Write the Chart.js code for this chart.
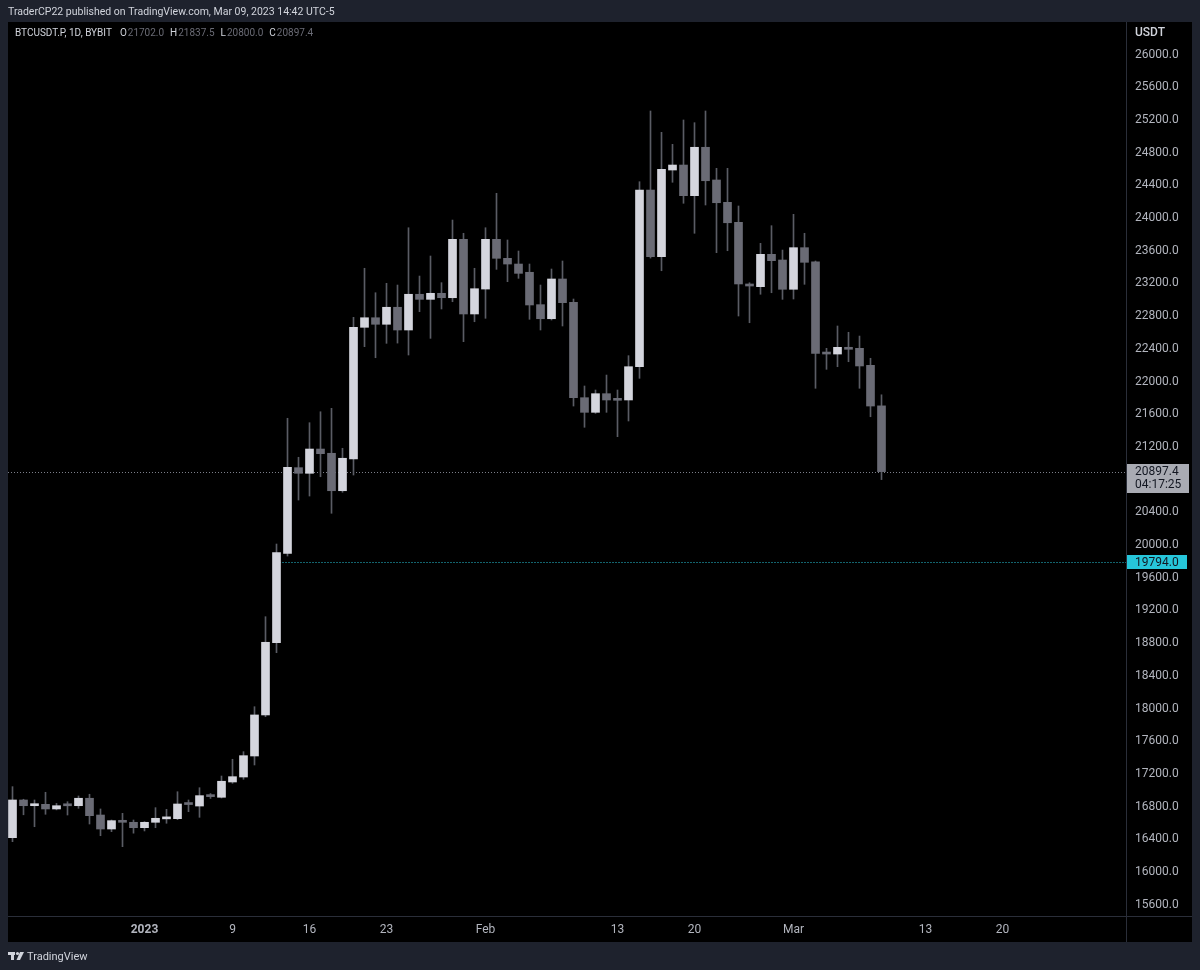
<!DOCTYPE html>
<html>
<head>
<meta charset="utf-8">
<title>BTCUSDT.P 1D BYBIT</title>
<script src="https://cdn.jsdelivr.net/npm/chart.js@4.4.0/dist/chart.umd.min.js"></script>
<style>
  html, body { margin: 0; padding: 0; background: #1e222d; }
  #wrap { width: 1200px; height: 970px; }
</style>
</head>
<body>
<div id="wrap"><canvas id="btc-chart" width="1200" height="970"></canvas></div>
<script>
// day offset from 1 Jan 2023 (negative = December 2022)
const days = [-12, -11, -10, -9, -8, -7, -6, -5, -4, -3, -2, -1,
  0, 1, 2, 3, 4, 5, 6, 7, 8, 9, 10, 11, 12, 13, 14, 15, 16, 17, 18, 19, 20, 21, 22, 23, 24, 25, 26, 27, 28, 29, 30,
  31, 32, 33, 34, 35, 36, 37, 38, 39, 40, 41, 42, 43, 44, 45, 46, 47, 48, 49, 50, 51, 52, 53, 54, 55, 56, 57, 58,
  59, 60, 61, 62, 63, 64, 65, 66, 67];

const opens = [16420, 16881, 16811, 16828, 16771, 16818, 16811, 16902, 16697, 16526, 16628, 16608,
  16542, 16608, 16650, 16652, 16832, 16807, 16930, 16914, 17101, 17162, 17419, 17921, 18805, 19898, 20946, 20877,
  21174, 21122, 20664, 21052, 22663, 22780, 22700, 22908, 22630, 23067, 23005, 23079, 23025, 23739, 22826,
  23131, 23739, 23507, 23437, 23336, 22940, 22768, 23254, 22969, 21802, 21623, 21851, 21780, 21774, 22181, 24342,
  23527, 24587, 24648, 24273, 24865, 24465, 24192, 23947, 23193, 23160, 23556, 23486,
  23128, 23637, 23465, 22352, 22336, 22418, 22406, 22198, 21702.0];
const highs = [17044, 16890, 16881, 16975, 16839, 16860, 16930, 16951, 16771, 16636, 16718, 16636,
  16616, 16787, 16767, 16982, 16881, 17031, 16960, 17174, 17379, 17472, 18022, 19123, 20012, 21550, 21073, 21496,
  21630, 21672, 21183, 22785, 23385, 23086, 23201, 23180, 23881, 23290, 23535, 23209, 23975, 23813, 23385,
  23881, 24302, 23731, 23596, 23437, 23180, 23376, 23474, 23009, 21945, 21896, 22079, 21896, 22316, 24444, 25309,
  25048, 24901, 25199, 25166, 25309, 24608, 24608, 24147, 23208, 23690, 23906, 23608,
  24045, 23813, 23474, 22406, 22679, 22602, 22556, 22284, 21837.5];
const lows = [16371, 16700, 16554, 16706, 16760, 16697, 16779, 16587, 16444, 16493, 16310, 16475,
  16502, 16542, 16596, 16640, 16738, 16669, 16900, 16905, 17085, 17134, 17309, 17900, 18683, 19865, 20550, 20599,
  20835, 20388, 20645, 20856, 22426, 22291, 22467, 22470, 22324, 22854, 22528, 22887, 22976, 22487, 22731,
  22773, 23372, 23221, 23262, 22761, 22630, 22752, 22679, 21700, 21440, 21610, 21623, 21325, 21517, 22039, 23510,
  23355, 24437, 24180, 23813, 24159, 23576, 23600, 22801, 22719, 23067, 23086, 23005,
  23009, 23189, 21917, 22149, 22181, 22242, 21917, 21569, 20800.0];
const closes = [16881, 16811, 16828, 16771, 16811, 16810, 16902, 16689, 16526, 16628, 16608, 16542,
  16608, 16657, 16660, 16832, 16825, 16934, 16922, 17110, 17166, 17423, 17921, 18810, 19906, 20950, 20877, 21174,
  21117, 20664, 21061, 22663, 22780, 22700, 22908, 22630, 23067, 23005, 23079, 23025, 23739, 22826, 23135,
  23739, 23507, 23437, 23323, 22936, 22768, 23254, 22964, 21802, 21623, 21851, 21774, 21770, 22181, 24342, 23527,
  24596, 24648, 24273, 24865, 24456, 24187, 23942, 23193, 23168, 23556, 23478, 23128,
  23637, 23458, 22345, 22336, 22418, 22394, 22190, 21700, 20897.4];

// time axis
const tickDays = [0, 8, 15, 22, 31, 43, 50, 59, 71, 78];
const tickLabels = ['2023', '9', '16', '23', 'Feb', '13', '20', 'Mar', '13', '20'];

// price axis
const priceTicks = [15600, 16000, 16400, 16800, 17200, 17600, 18000, 18400, 18800, 19200, 19600, 20000,
  20400, 20800, 21200, 21600, 22000, 22400, 22800, 23200, 23600, 24000, 24400, 24800, 25200, 25600, 26000];

const markPrice = 19794.0;
const markFromDay = 12;
const countdown = '04:17:25';
const lastClose = closes[closes.length - 1];

const UP = '#d4d5dd', DOWN = '#6a6b75', WICK = '#5a5c64';
const FONT = 'Roboto, "Liberation Sans", sans-serif';

var bodyData = days.map((d, i) => ({x: d, y: [opens[i], closes[i]]}));
var wickData = days.map((d, i) => ({x: d, y: [lows[i], highs[i]]}));
var bodyColors = days.map((d, i) => closes[i] >= opens[i] ? UP : DOWN);

// frame, header, price lines and labels
var tvFrame = {
  id: 'tvFrame',
  beforeDraw: function(chart) {
    var c = chart.ctx;
    c.save();
    c.fillStyle = '#1e222d';
    c.fillRect(0, 0, chart.width, chart.height);
    c.fillStyle = '#000000';
    c.fillRect(8, 22, 1184, 920);
    c.restore();
  },
  beforeDatasetsDraw: function(chart) {
    var c = chart.ctx, a = chart.chartArea;
    var y = chart.scales.y, x = chart.scales.x;
    c.save();
    c.lineWidth = 1;
    c.setLineDash([1, 2]);
    var yl = Math.round(y.getPixelForValue(lastClose)) + 0.5;
    c.strokeStyle = '#7c7f8a';
    c.beginPath(); c.moveTo(a.left, yl); c.lineTo(a.right, yl); c.stroke();
    var ym = Math.round(y.getPixelForValue(markPrice)) + 0.5;
    c.strokeStyle = '#26c6da';
    c.beginPath(); c.moveTo(x.getPixelForValue(markFromDay), ym); c.lineTo(a.right, ym); c.stroke();
    c.restore();
  },
  afterDraw: function(chart) {
    var c = chart.ctx, a = chart.chartArea, y = chart.scales.y;
    c.save();
    // separators
    c.strokeStyle = '#2a2e39';
    c.lineWidth = 1;
    c.beginPath();
    c.moveTo(a.right + 0.5, 22); c.lineTo(a.right + 0.5, 942);
    c.moveTo(8, a.bottom + 0.5); c.lineTo(1192, a.bottom + 0.5);
    c.stroke();

    c.textBaseline = 'middle';
    c.textAlign = 'left';
    c.fillStyle = '#d1d4dc';
    c.font = '10.5px ' + FONT;
    c.fillText('TraderCP22 published on TradingView.com, Mar 09, 2023 14:42 UTC-5', 8, 12);

    // legend line
    c.font = '10px ' + FONT;
    var px = 15;
    c.fillText('BTCUSDT.P, 1D, BYBIT', px, 33);
    px += c.measureText('BTCUSDT.P, 1D, BYBIT').width + 8;
    var parts = [['O', '21702.0'], ['H', '21837.5'], ['L', '20800.0'], ['C', '20897.4']];
    parts.forEach(function(p) {
      c.fillStyle = '#d1d4dc';
      c.fillText(p[0], px, 33);
      px += c.measureText(p[0]).width + 1;
      c.fillStyle = '#6a6b75';
      c.fillText(p[1], px, 33);
      px += c.measureText(p[1]).width + 6;
    });

    // axis unit
    c.fillStyle = '#d1d4dc';
    c.font = '500 12px ' + FONT;
    c.fillText('USDT', 1135, 33);

    // last price box
    var yl = y.getPixelForValue(lastClose);
    c.fillStyle = '#a9abb3';
    c.fillRect(a.right + 1, Math.round(yl) - 8, 62, 29);
    c.fillStyle = '#131722';
    c.font = '12px ' + FONT;
    c.fillText(lastClose.toFixed(1), 1135, Math.round(yl));
    c.fillText(countdown, 1135, Math.round(yl) + 13);

    // marked price box
    var ym = y.getPixelForValue(markPrice);
    c.fillStyle = '#26c6da';
    c.fillRect(a.right + 1, Math.round(ym) - 7, 60, 14);
    c.fillStyle = '#131722';
    c.fillText(markPrice.toFixed(1), 1135, Math.round(ym) + 0.5);

    // TradingView mark
    c.fillStyle = '#d1d4dc';
    c.fillRect(8, 952, 7, 3);
    c.fillRect(11, 952, 3, 8);
    c.beginPath(); c.arc(17.5, 953.5, 1.6, 0, Math.PI * 2); c.fill();
    c.beginPath();
    c.moveTo(20, 952); c.lineTo(24, 952); c.lineTo(20, 960); c.lineTo(16.5, 960);
    c.closePath(); c.fill();
    c.font = '11px ' + FONT;
    c.fillText('TradingView', 27, 957);
    c.restore();
  }
};

var ctx = document.getElementById('btc-chart').getContext('2d');
var btcChart = new Chart(ctx, {
  type: 'bar',
  data: {
    datasets: [{
      label: 'body',
      data: bodyData,
      backgroundColor: bodyColors,
      grouped: false,
      barPercentage: 1,
      categoryPercentage: 1,
      maxBarThickness: 8,
      minBarLength: 2,
      order: 0
    }, {
      label: 'wick',
      data: wickData,
      backgroundColor: WICK,
      grouped: false,
      barPercentage: 1,
      categoryPercentage: 1,
      maxBarThickness: 1,
      order: 1
    }]
  },
  options: {
    responsive: false,
    animation: false,
    events: [],
    layout: { padding: { left: 8, right: 8, top: 22, bottom: 28 } },
    plugins: {
      legend: { display: false },
      tooltip: { enabled: false }
    },
    scales: {
      x: {
        type: 'linear',
        min: (8 - 144.5) / 11,
        max: (1126 - 144.5) / 11,
        offset: false,
        grid: { display: false, drawTicks: false },
        border: { display: false },
        afterBuildTicks: function(s) { s.ticks = tickDays.map(v => ({value: v})); },
        afterFit: function(s) { s.height = 26; },
        ticks: {
          autoSkip: false,
          maxRotation: 0,
          padding: 7,
          color: '#b2b5be',
          font: function(c) {
            return (c.tick && c.tick.value === 0) ? {family: FONT, size: 12, weight: 'bold'} : {family: FONT, size: 12};
          },
          callback: function(v) { return tickLabels[tickDays.indexOf(v)]; }
        }
      },
      y: {
        position: 'right',
        min: 15461.8,
        max: 26397.6,
        grid: { display: false, drawTicks: false },
        border: { display: false },
        afterBuildTicks: function(s) { s.ticks = priceTicks.map(v => ({value: v})); },
        afterFit: function(s) { s.width = 66; },
        ticks: {
          padding: 9,
          color: '#b2b5be',
          font: { family: FONT, size: 12 },
          // labels hidden behind the last price box
          callback: function(v) { return Math.abs(v - lastClose) < 200 ? '' : v.toFixed(1); }
        }
      }
    }
  },
  plugins: [tvFrame]
});
</script>
</body>
</html>
